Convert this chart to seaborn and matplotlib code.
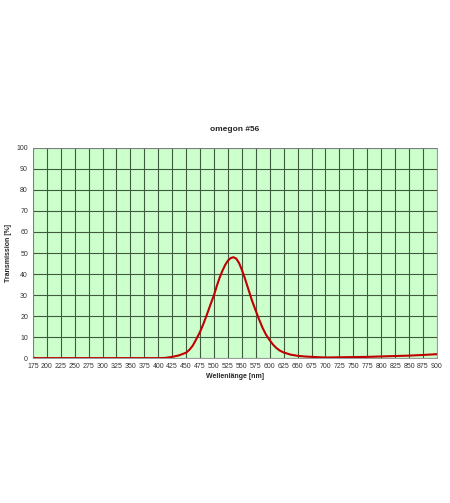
import numpy as np
import pandas as pd
import matplotlib
matplotlib.use("Agg")
import matplotlib.pyplot as plt
import seaborn as sns

# transmission curve
wavelength = [175, 180, 200, 250, 300, 350, 400, 412, 425, 437, 450, 456, 462, 468, 475,
              481, 487, 493, 500, 505, 510, 515, 520, 525, 530, 535, 540, 545, 550,
              555, 562, 568, 575, 580, 587, 593, 600, 606, 612, 618, 625, 637, 650,
              662, 675, 700, 725, 750, 775, 800, 825, 850, 875, 900]
transmission = [0.3, 0.0, 0.0, 0.0, 0.0, 0.0, 0.0, 0.1, 0.6, 1.3, 2.6, 4.0, 6.0, 8.9, 12.5,
                16.3, 20.5, 25.0, 30.0, 34.3, 38.2, 41.5, 44.3, 46.4, 47.6, 48.0, 47.3, 45.2, 42.0,
                38.3, 32.5, 27.5, 22.5, 19.0, 14.5, 11.3, 8.5, 6.4, 4.8, 3.6, 2.7, 1.7, 1.1,
                0.8, 0.6, 0.3, 0.4, 0.5, 0.6, 0.8, 1.0, 1.2, 1.5, 1.9]

xticks = list(range(175, 901, 25))
yticks = list(range(0, 101, 10))

df = pd.DataFrame({"wl": wavelength, "t": transmission})

sns.set_style("white")
plt.rcParams['font.family'] = ['Arial', 'Liberation Sans', 'DejaVu Sans']

fig = plt.figure(figsize=(4.5, 5.03), dpi=100)
ax = fig.add_axes([0.073, 0.288, 0.898, 0.418])
ax.set_facecolor('#ccffcc')

sns.lineplot(data=df, x="wl", y="t", ax=ax, color='#c00000', linewidth=1.5)

ax.set_xlim(175, 900)
ax.set_ylim(0, 100)
ax.set_xticks(xticks)
ax.set_yticks(yticks)
ax.tick_params(labelsize=5, length=2, width=0.5, pad=1.5, colors='#333333')
ax.grid(True, color='#3f5a3f', linewidth=0.8)
ax.set_axisbelow(True)
for s in ax.spines.values():
    s.set_color('#888888')
    s.set_linewidth(0.6)

ax.set_title("omegon #56", fontsize=6, fontweight='bold', pad=12)
ax.set_xlabel("Wellenlänge [nm]", fontsize=5, fontweight='bold', labelpad=2)
ax.set_ylabel("Transmission [%]", fontsize=5, fontweight='bold', labelpad=3)

fig.savefig("out.png", dpi=100)
